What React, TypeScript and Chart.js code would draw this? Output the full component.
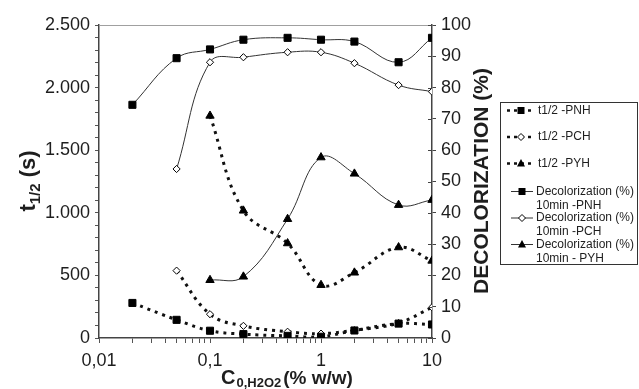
import React, { useEffect, useRef } from 'react';
import { Chart, registerables } from 'chart.js';

Chart.register(...registerables);

// ---- data ----
const concentrations = [0.02, 0.05, 0.1, 0.2, 0.5, 1, 2, 5, 10];
const halfLifePNH = [280, 145, 58, 31, 17, 10, 60, 115, 108];
const halfLifePCH = [null, 538, 190, 97, 50, 35, 62, 120, 245];
const halfLifePYH = [null, null, 1775, 1017, 756, 423, 522, 724, 617];
const decolPNH = [74.5, 89.4, 92.2, 95.3, 95.9, 95.3, 94.7, 88.1, 95.9];
const decolPCH = [null, 54.0, 88.1, 89.7, 91.3, 91.3, 87.8, 80.8, 78.7];
const decolPYH = [null, null, 18.5, 19.6, 38.0, 57.7, 52.5, 42.5, 44.1];

const xMajorTicks = [0.01, 0.1, 1, 10];
const xMajorLabels = ['0,01', '0,1', '1', '10'];
const leftMajorTicks = [0, 500, 1000, 1500, 2000, 2500];
const leftMajorLabels = ['0', '500', '1.000', '1.500', '2.000', '2.500'];
const rightTicks = [0, 10, 20, 30, 40, 50, 60, 70, 80, 90, 100];
const rightLabels = ['0', '10', '20', '30', '40', '50', '60', '70', '80', '90', '100'];

const legendLabels = [
  ['t1/2 -PNH'],
  ['t1/2 -PCH'],
  ['t1/2 -PYH'],
  ['Decolorization (%)', '10min -PNH'],
  ['Decolorization (%)', '10min -PCH'],
  ['Decolorization (%)', '10min - PYH'],
];

const FONT = '"Liberation Sans", Arial, Helvetica, sans-serif';
const INK = '#1e1e1e';

function toPoints(values: (number | null)[]) {
  return concentrations
    .map((x, i) => ({ x, y: values[i] }))
    .filter((p) => p.y !== null) as { x: number; y: number }[];
}

function drawMarker(ctx: CanvasRenderingContext2D, kind: string, x: number, y: number) {
  ctx.save();
  ctx.setLineDash([]);
  ctx.lineWidth = 1;
  ctx.strokeStyle = '#000';
  ctx.fillStyle = '#000';
  if (kind === 'rect') {
    ctx.fillRect(x - 3.5, y - 3.5, 7, 7);
  } else if (kind === 'rectRot') {
    ctx.fillStyle = '#fff';
    ctx.beginPath();
    ctx.moveTo(x, y - 3.5);
    ctx.lineTo(x + 3.5, y);
    ctx.lineTo(x, y + 3.5);
    ctx.lineTo(x - 3.5, y);
    ctx.closePath();
    ctx.fill();
    ctx.stroke();
  } else {
    ctx.beginPath();
    ctx.moveTo(x, y - 4.5);
    ctx.lineTo(x + 4, y + 3);
    ctx.lineTo(x - 4, y + 3);
    ctx.closePath();
    ctx.fill();
  }
  ctx.restore();
}

const markerKinds = ['rect', 'rectRot', 'triangle', 'rect', 'rectRot', 'triangle'];

const decorPlugin = {
  id: 'decor',
  afterDraw(chart: any) {
    const ctx: CanvasRenderingContext2D = chart.ctx;
    const ca = chart.chartArea;
    ctx.save();

    // top frame line
    ctx.strokeStyle = '#a0a0a0';
    ctx.lineWidth = 1;
    ctx.beginPath();
    ctx.moveTo(ca.left, Math.round(ca.top) + 0.5);
    ctx.lineTo(ca.right, Math.round(ca.top) + 0.5);
    ctx.stroke();

    // inner half of right axis ticks (crossing ticks)
    const y1 = chart.scales.y1;
    ctx.strokeStyle = '#444';
    ctx.lineWidth = 1;
    y1.ticks.forEach((t: any) => {
      const py = Math.round(y1.getPixelForValue(t.value)) + 0.5;
      ctx.beginPath();
      ctx.moveTo(ca.right - 4, py);
      ctx.lineTo(ca.right, py);
      ctx.stroke();
    });

    ctx.fillStyle = INK;

    // left title: t1/2 (s)
    ctx.save();
    ctx.translate(28, 181);
    ctx.rotate(-Math.PI / 2);
    ctx.textBaseline = 'alphabetic';
    ctx.textAlign = 'left';
    const big = `bold 22px ${FONT}`;
    const small = `bold 15px ${FONT}`;
    ctx.font = big;
    const wT = ctx.measureText('t').width;
    const wS1 = ctx.measureText(' (s)').width;
    ctx.font = small;
    const wSub = ctx.measureText('1/2').width;
    let sx = -(wT + wSub + wS1) / 2;
    ctx.font = big;
    ctx.fillText('t', sx, 7);
    sx += wT;
    ctx.font = small;
    ctx.fillText('1/2', sx, 12);
    sx += wSub;
    ctx.font = big;
    ctx.fillText(' (s)', sx, 7);
    ctx.restore();

    // right title
    ctx.save();
    ctx.translate(482, 181);
    ctx.rotate(-Math.PI / 2);
    ctx.font = `bold 21px ${FONT}`;
    ctx.textAlign = 'center';
    ctx.textBaseline = 'middle';
    ctx.fillText('DECOLORIZATION (%)', 0, 0);
    ctx.restore();

    // x title: C0,H2O2(% w/w)
    ctx.save();
    ctx.textBaseline = 'alphabetic';
    ctx.textAlign = 'left';
    let xx = 221;
    ctx.font = `bold 20px ${FONT}`;
    ctx.fillText('C', xx, 384);
    xx += ctx.measureText('C').width;
    ctx.font = `bold 13px ${FONT}`;
    ctx.fillText('0,H2O2', xx + 1, 387);
    xx += ctx.measureText('0,H2O2').width + 3;
    ctx.font = `bold 19px ${FONT}`;
    ctx.fillText('(% w/w)', xx, 384);
    ctx.restore();

    // legend box
    ctx.strokeStyle = '#333';
    ctx.lineWidth = 1;
    ctx.strokeRect(500.5, 102.5, 137, 162);
    ctx.font = `12px ${FONT}`;
    ctx.textBaseline = 'middle';
    ctx.textAlign = 'left';
    const rowY = [110.5, 137, 163.5, 191.5, 218, 244.5];
    legendLabels.forEach((lines, i) => {
      const y = rowY[i];
      const dotted = i < 3;
      ctx.save();
      ctx.strokeStyle = dotted ? '#111' : '#333';
      ctx.lineWidth = dotted ? 2.5 : 1;
      ctx.setLineDash(dotted ? [3, 4] : []);
      ctx.beginPath();
      if (dotted) {
        ctx.moveTo(507, y);
        ctx.lineTo(532, y);
      } else {
        ctx.moveTo(511, y);
        ctx.lineTo(533, y);
      }
      ctx.stroke();
      ctx.restore();
      drawMarker(ctx, markerKinds[i], dotted ? 521 : 522, y);
      ctx.fillStyle = INK;
      lines.forEach((line, j) => {
        ctx.fillText(line, dotted ? 538 : 536, y + j * 14);
      });
    });

    ctx.restore();
  },
};

function makeDataset(label: string, values: (number | null)[], axis: string, kind: string, dotted: boolean) {
  const open = kind === 'rectRot';
  return {
    label,
    data: toPoints(values),
    yAxisID: axis,
    borderColor: dotted ? '#111' : '#333',
    borderWidth: dotted ? 3 : 1,
    borderDash: dotted ? [3, 5] : [],
    borderCapStyle: 'butt',
    tension: 0.4,
    fill: false,
    pointStyle: kind,
    pointRadius: kind === 'rect' ? 5 : kind === 'rectRot' ? 3.6 : 4.8,
    pointBackgroundColor: open ? '#fff' : '#000',
    pointBorderColor: '#000',
    pointBorderWidth: 1,
  };
}

export default function App() {
  const ref = useRef<HTMLCanvasElement | null>(null);

  useEffect(() => {
    document.body.style.margin = '0';
    const canvas = ref.current;
    if (!canvas) return;

    const xMinor: number[] = [];
    [0.01, 0.1, 1].forEach((d) => {
      for (let k = 1; k <= 9; k++) xMinor.push(Math.round(d * k * 1000) / 1000);
    });
    xMinor.push(10);

    const leftAll: number[] = [];
    for (let v = 0; v <= 2500; v += 100) leftAll.push(v);

    const chart = new Chart(canvas, {
      type: 'line',
      data: {
        datasets: [
          makeDataset('t1/2 -PNH', halfLifePNH, 'y', 'rect', true),
          makeDataset('t1/2 -PCH', halfLifePCH, 'y', 'rectRot', true),
          makeDataset('t1/2 -PYH', halfLifePYH, 'y', 'triangle', true),
          makeDataset('Decolorization (%) 10min -PNH', decolPNH, 'y1', 'rect', false),
          makeDataset('Decolorization (%) 10min -PCH', decolPCH, 'y1', 'rectRot', false),
          makeDataset('Decolorization (%) 10min - PYH', decolPYH, 'y1', 'triangle', false),
        ] as any,
      },
      options: {
        animation: false,
        responsive: false,
        devicePixelRatio: 1,
        layout: { padding: { left: 0, right: 157, top: 25, bottom: 0 } },
        plugins: {
          legend: { display: false },
          tooltip: { enabled: false },
        },
        scales: {
          x: {
            type: 'logarithmic',
            min: 0.01,
            max: 10,
            afterBuildTicks: (scale: any) => {
              scale.ticks = xMinor.map((v) => ({ value: v }));
            },
            afterFit: (scale: any) => {
              scale.height = 51;
            },
            ticks: {
              autoSkip: false,
              maxRotation: 0,
              padding: 7,
              color: INK,
              font: { family: FONT, size: 18 },
              callback: (value: any) => {
                const idx = xMajorTicks.findIndex((m) => Math.abs(m - Number(value)) < 1e-9);
                return idx >= 0 ? xMajorLabels[idx] : '';
              },
            },
            grid: { display: true, drawOnChartArea: false, drawTicks: true, tickLength: 5, color: '#555' },
            border: { display: true, color: '#444', width: 1.5 },
          },
          y: {
            type: 'linear',
            position: 'left',
            min: 0,
            max: 2500,
            afterBuildTicks: (scale: any) => {
              scale.ticks = leftAll.map((v) => ({ value: v }));
            },
            afterFit: (scale: any) => {
              scale.width = 99;
            },
            ticks: {
              autoSkip: false,
              padding: 5,
              color: INK,
              font: { family: FONT, size: 18 },
              callback: (value: any) => {
                const idx = leftMajorTicks.indexOf(Number(value));
                return idx >= 0 ? leftMajorLabels[idx] : '';
              },
            },
            grid: { display: true, drawOnChartArea: false, drawTicks: true, tickLength: 4, color: '#555' },
            border: { display: true, color: '#444', width: 1.5 },
          },
          y1: {
            type: 'linear',
            position: 'right',
            min: 0,
            max: 100,
            afterBuildTicks: (scale: any) => {
              scale.ticks = rightTicks.map((v) => ({ value: v }));
            },
            afterFit: (scale: any) => {
              scale.width = 50;
            },
            ticks: {
              autoSkip: false,
              padding: 5,
              color: INK,
              font: { family: FONT, size: 18 },
              callback: (value: any) => {
                const idx = rightTicks.indexOf(Number(value));
                return idx >= 0 ? rightLabels[idx] : '';
              },
            },
            grid: { display: true, drawOnChartArea: false, drawTicks: true, tickLength: 4, color: '#444' },
            border: { display: true, color: '#444', width: 1.5 },
          },
        },
      } as any,
      plugins: [decorPlugin],
    });

    return () => chart.destroy();
  }, []);

  return (
    <div style={{ width: 639, height: 389, background: '#fff' }}>
      <canvas ref={ref} width={639} height={389} style={{ display: 'block', width: 639, height: 389 }} />
    </div>
  );
}
